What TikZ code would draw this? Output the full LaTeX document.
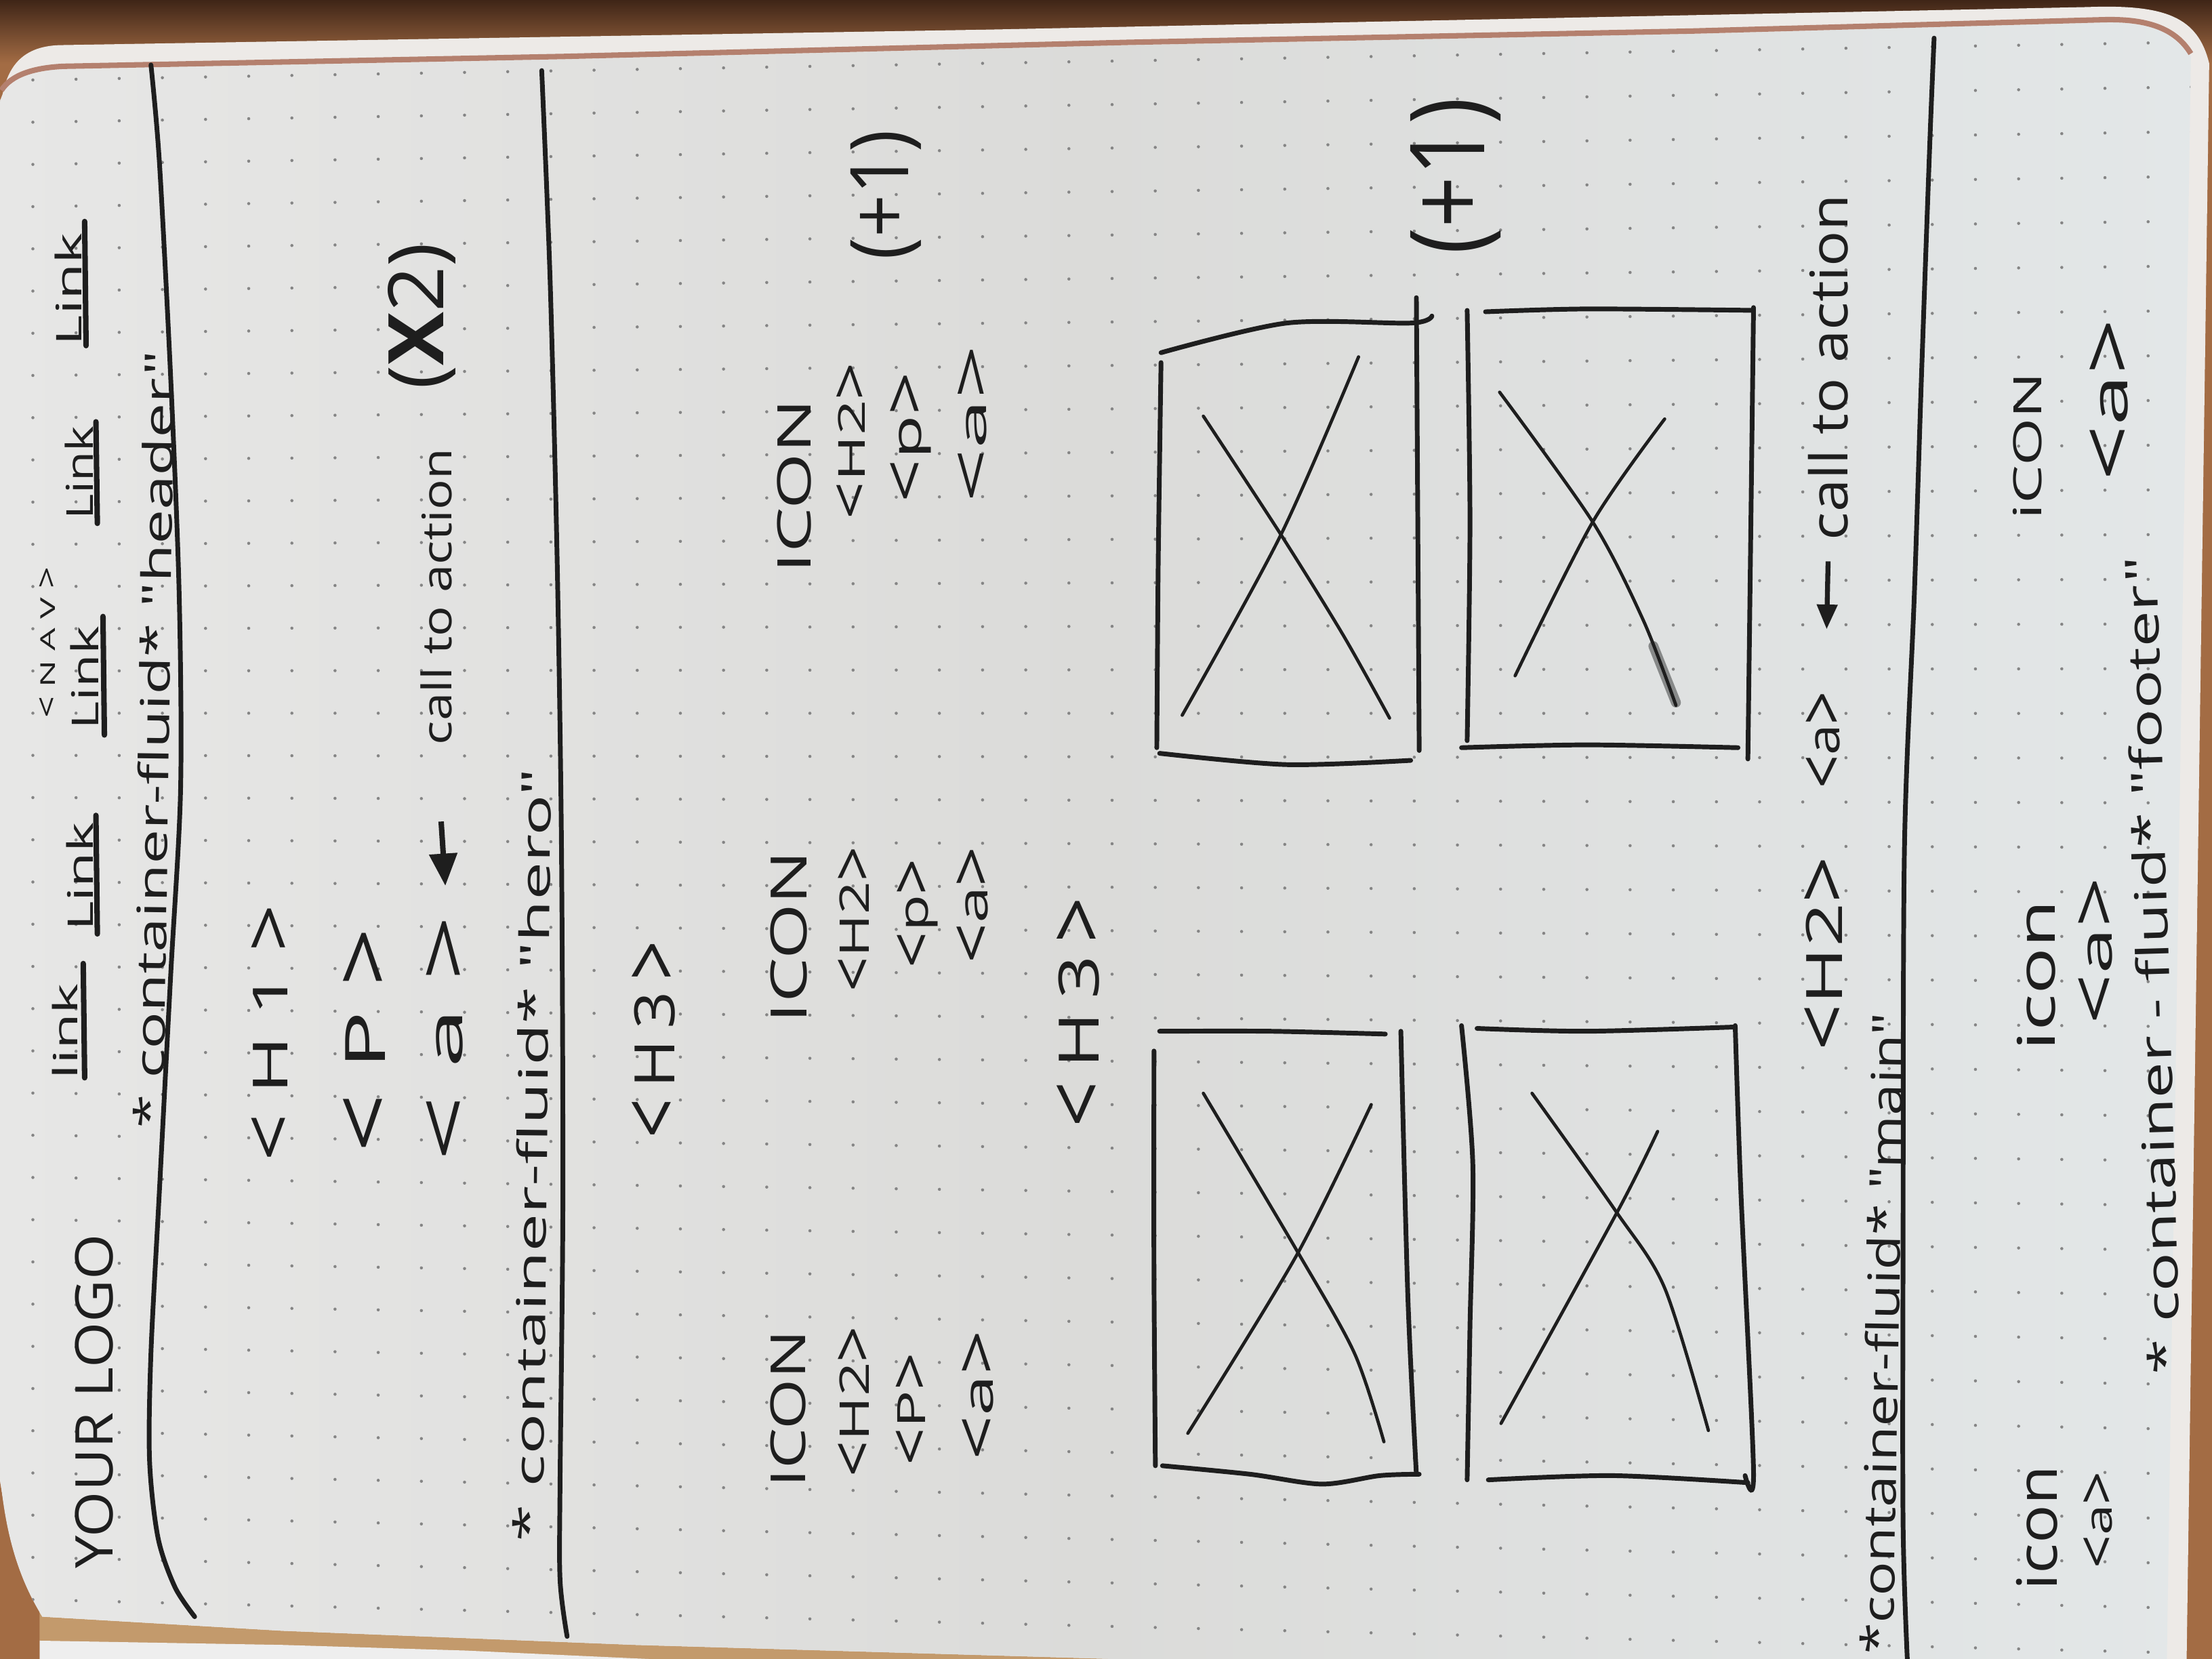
\documentclass[tikz,border=0pt]{standalone}
\usepackage{fontspec}
\usepackage{graphicx}
\newfontfamily\handfont{Open Sans}
\usetikzlibrary{arrows.meta}
\newlength\px
\setlength\px{0.02cm}
\newcommand\hw[3]{\resizebox{#1\px}{#2\px}{#3\vphantom{Hl}}}
\newcommand\hwt[3]{\resizebox*{#1\px}{#2\px}{#3}}
\newcommand\hsk{\hspace{0.25em}}
\newcommand\la{\raisebox{-0.12em}{\scalebox{1.05}[1.45]{<}}}
\newcommand\ra{\raisebox{-0.12em}{\scalebox{1.05}[1.45]{>}}}
\definecolor{ink}{HTML}{1E1E1E}
\definecolor{paperL}{HTML}{E7E7E6}
\definecolor{paperM}{HTML}{DBDBD9}
\definecolor{paperR}{HTML}{E3E7E8}
\definecolor{stackc}{HTML}{EDEAE7}
\definecolor{salmon}{HTML}{B4806E}
\definecolor{wood}{HTML}{A36C44}
\definecolor{wooddark}{HTML}{3F2517}
\definecolor{tanc}{HTML}{C39A6C}
\definecolor{edgewhite}{HTML}{EEEEEE}
\definecolor{dotc}{HTML}{858585}
\begin{document}
\begin{tikzpicture}[x=0.02cm,y=-0.02cm,
  hand/.style={inner sep=0pt,outer sep=0pt,text=ink,font=\handfont},
  txt/.style={hand,anchor=base west,rotate=#1},
  txt/.default=90,
  pen/.style={draw=ink,line width=1.9pt,line cap=round,line join=round},
  boxpen/.style={draw=ink,line width=1.9pt,line cap=round},
  xpen/.style={draw=ink,line width=1.3pt,line cap=round},
  ulpen/.style={draw=ink,line width=2.2pt,line cap=round},
  arr/.style={draw=ink,line width=2.2pt,-{Triangle[length=13pt,width=11pt]}},
  arrb/.style={draw=ink,line width=2pt,-{Triangle[length=10pt,width=8pt]}},
]
\useasboundingbox (0,0) rectangle (1568,1176);
% background wood
\fill[wood] (0,0) rectangle (1568,1176);
\shade[top color=wooddark,bottom color=wood] (0,0) rectangle (1568,45);
% page stack
\fill[stackc] (0,85) .. controls (1,48) and (15,33) .. (42,32) -- (700,21) -- (1480,5) .. controls (1535,3) and (1558,12) .. (1566,45) -- (1550,1176) -- (0,1176) -- cycle;
\fill[tanc] (0,1100) -- (30,1146) -- (200,1156) -- (450,1166) -- (790,1176) -- (0,1176) -- cycle;
\fill[edgewhite] (28,1163) -- (200,1166) -- (330,1170) -- (460,1176) -- (28,1176) -- cycle;
\fill[wood] (0,1050) .. controls (8,1100) and (18,1125) .. (28,1140) -- (28,1176) -- (0,1176) -- cycle;
% page
\shade[left color=paperL,right color=paperR,middle color=paperM] (0,72) .. controls (4,56) and (20,50) .. (45,49) -- (400,42) -- (800,32) -- (1200,24) -- (1490,16) .. controls (1522,15) and (1542,22) .. (1553,40) -- (1536,1176) -- (790,1176) -- (450,1166) -- (200,1156) -- (30,1146) .. controls (14,1120) and (4,1090) .. (0,1045) -- cycle;
\draw[salmon,line width=2.2pt] (1,64) .. controls (8,53) and (24,48) .. (45,47) -- (400,40) -- (800,30) -- (1200,22) -- (1490,14) .. controls (1522,13) and (1542,20) .. (1553,38);
% dot grid
\begin{scope}
\clip (0,72) .. controls (4,56) and (20,50) .. (45,49) -- (400,42) -- (800,32) -- (1200,24) -- (1490,16) .. controls (1522,15) and (1542,22) .. (1553,40) -- (1536,1176) -- (790,1176) -- (450,1166) -- (200,1156) -- (30,1146) .. controls (14,1120) and (4,1090) .. (0,1045) -- cycle;
\foreach \i in {0,...,51}{
  \foreach \j in {0,...,38}{
    \pgfmathsetmacro\dx{23.3+\i*30.6}
    \pgfmathsetmacro\dy{16+\j*30.6}
    \pgfmathsetmacro\dyy{\dy+(-0.017+(\dy-60)*0.00385/100)*(\dx-600)}
    \fill[dotc] (\dx,\dyy) circle[radius=0.022cm];
  }
}
\end{scope}
% section lines
\draw[pen] plot[smooth] coordinates {(107,46) (113,115) (121,268) (127,421) (128,560) (121,691) (113,844) (107,959) (106,1035) (112,1090) (124,1125) (138,1146)};
\draw[pen] plot[smooth] coordinates {(384,50) (390,200) (395,400) (398,600) (399,850) (397,1050) (397,1120) (402,1160)};
\draw[pen] plot[smooth] coordinates {(1371,27) (1368,100) (1362,268) (1357,421) (1350,600) (1349,880) (1349,1080) (1352,1176)};
% header
\node[txt] (logo) at (80,1112) {\hw{237}{28}{YOUR LOGO}};
\node[txt] (link1) at (55,765) {\hw{68}{18}{link}};
\node[txt] (link2) at (66,660) {\hw{77}{19}{Link}};
\node[txt] (link3) at (70,517) {\hw{73}{20}{Link}};
\node[txt] (nav) at (39,509) {\hw{107}{11}{\la\hsk N\hsk A\hsk V\hsk \ra}};
\node[txt] (link4) at (66,368) {\hw{66}{20}{Link}};
\node[txt] (link5) at (58,245) {\hw{80}{19}{Link}};
\draw[ulpen] (60,764) -- (59,683);
\draw[ulpen] (69,662) -- (68,578);
\draw[ulpen] (74,521) -- (73,437);
\draw[ulpen] (69,371) -- (68,299);
\draw[ulpen] (61,245) -- (60,157);
\node[txt=89.2] (hdr) at (116,800) {\hw{551}{22}{* container-fluid* "header"}};
% hero
\node[txt] (h1) at (204,823) {\hw{182}{26}{\la\hsk H\hsk 1\hsk \ra}};
\node[txt] (p1) at (273,817) {\hw{159}{30}{\la\hsk P\hsk \ra}};
\node[txt] (a1) at (328,823) {\hw{174}{26}{\la\hsk a\hsk \ra}};
\node[txt] (cta1) at (320,528) {\hw{210}{22}{call to action}};
\node[hand,rotate=90] (x2) at (299,224) {\hwt{104}{48}{(\textbf{X}2)}};
\draw[arr,shorten <=31pt,shorten >=12pt] (cta1.west) -- (a1.east);
\node[txt=89.4] (hero) at (385,1093) {\hw{548}{22}{* container-fluid* "hero"}};
% main
\node[txt] (h3a) at (478,807) {\hw{140}{30}{\la\,H\,3\,\ra}};
\node[txt] (ic1) at (571,1054) {\hw{111}{26}{ICON}};
\node[txt] (h2a) at (616,1047) {\hw{107}{22}{\la H2\ra}};
\node[txt] (pa) at (656,1039) {\hw{80}{21}{\la P\ra}};
\node[txt] (aa) at (704,1035) {\hw{92}{22}{\la a\ra}};
\node[txt] (ic2) at (572,725) {\hw{122}{27}{ICON}};
\node[txt] (h2b) at (616,703) {\hw{103}{22}{\la H2\ra}};
\node[txt] (pb) at (658,686) {\hw{77}{22}{\la p\ra}};
\node[txt] (ab) at (700,683) {\hw{83}{22}{\la a\ra}};
\node[txt] (ic3) at (575,406) {\hw{123}{25}{ICON}};
\node[txt] (h2c) at (613,368) {\hw{111}{20}{\la H2\ra}};
\node[txt] (pc) at (653,356) {\hw{92}{22}{\la p\ra}};
\node[txt] (ac) at (699,356) {\hw{111}{20}{\la a\ra}};
\node[hand,rotate=90] (plus1) at (628,138) {\hwt{92}{50}{(+1)}};
\node[txt] (h3b) at (779,799) {\hw{163}{30}{\la\,H\,3\,\ra}};
\node[hand,rotate=90] (plus2) at (1032,125) {\hwt{111}{64}{(+1)}};
% image boxes
% box A
\draw[boxpen] plot[smooth] coordinates {(822,731) (900,731) (982,733)};
\draw[boxpen] plot[smooth] coordinates {(818,745) (818,900) (819,1039)};
\draw[boxpen] plot[smooth] coordinates {(993,731) (998,920) (1004,1045)};
\draw[boxpen] plot[smooth] coordinates {(824,1039) (886,1045) (937,1052) (978,1046) (1006,1045)};
\draw[xpen] plot[smooth] coordinates {(853,775) (919,886) (960,959) (981,1022)};
\draw[xpen] plot[smooth] coordinates {(972,783) (919,890) (842,1016)};
% box B
\draw[boxpen] plot[smooth] coordinates {(1036,727) (1044,825) (1042,940) (1040,1049)};
\draw[boxpen] plot[smooth] coordinates {(1047,729) (1125,731) (1230,728)};
\draw[boxpen] plot[smooth] coordinates {(1230,727) (1234,844) (1243,1043) (1237,1046)};
\draw[boxpen] plot[smooth] coordinates {(1055,1049) (1143,1046) (1239,1051)};
\draw[xpen] plot[smooth] coordinates {(1086,775) (1145,858) (1180,913) (1211,1014)};
\draw[xpen] plot[smooth] coordinates {(1175,802) (1147,858) (1064,1009)};
% box C
\draw[boxpen] plot[smooth] coordinates {(823,250) (912,229) (1000,229) (1015,224)};
\draw[boxpen] plot[smooth] coordinates {(823,257) (821,400) (820,530)};
\draw[boxpen] plot[smooth] coordinates {(1004,211) (1005,370) (1006,532)};
\draw[boxpen] plot[smooth] coordinates {(822,534) (912,542) (1000,539)};
\draw[xpen] plot[smooth] coordinates {(853,295) (908,379) (952,450) (985,509)};
\draw[xpen] plot[smooth] coordinates {(963,253) (908,379) (838,507)};
% box D
\draw[boxpen] plot[smooth] coordinates {(1040,220) (1042,370) (1040,525)};
\draw[boxpen] plot[smooth] coordinates {(1053,221) (1125,219) (1243,220)};
\draw[boxpen] plot[smooth] coordinates {(1243,218) (1241,380) (1239,538)};
\draw[boxpen] plot[smooth] coordinates {(1036,530) (1125,528) (1232,530)};
\draw[xpen] plot[smooth] coordinates {(1063,278) (1129,370) (1165,440) (1188,500)};
\draw[xpen] plot[smooth] coordinates {(1180,297) (1129,370) (1074,479)};
\draw[draw=ink,line width=4pt,opacity=0.45,line cap=round] (1172,458) -- (1188,498);
% main bottom row
\node[txt] (h2m) at (1306,745) {\hw{138}{27}{\la H2\ra}};
\node[txt] (am) at (1304,559) {\hw{69}{24}{\la a\ra}};
\node[txt] (cta2) at (1310,383) {\hw{245}{28}{call to action}};
\draw[arrb,shorten <=8.5pt,shorten >=25pt] (cta2.west) -- (am.east);
\node[txt=89.0] (mainc) at (1342,1173) {\hw{455}{24}{*container-fluid* "main"}};
% footer
\node[txt] (fi1) at (1458,1127) {\hw{88}{30}{icon}};
\node[txt] (fa1) at (1497,1112) {\hw{69}{20}{\la a\ra}};
\node[txt] (fi2) at (1457,745) {\hw{107}{28}{icon}};
\node[txt] (fa2) at (1497,726) {\hw{104}{24}{\la a\ra}};
\node[txt] (fi3) at (1447,368) {\hw{104}{21}{iCON}};
\node[txt] (fa3) at (1508,341) {\hw{115}{27}{\la a\ra}};
\node[txt=91.7] (footc) at (1546,974) {\hw{580}{24}{* container - fluid* "footer"}};
\end{tikzpicture}
\end{document}
